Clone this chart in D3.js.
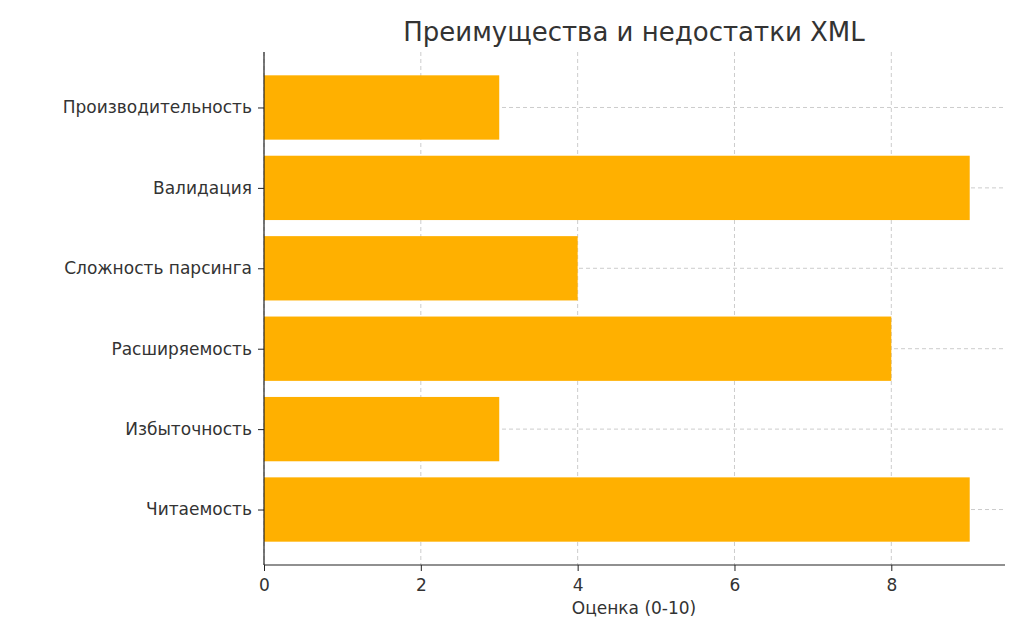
<!DOCTYPE html>
<html><head><meta charset="utf-8">
<script src="https://cdn.jsdelivr.net/npm/d3@7"></script>
<style>body{margin:0;background:#fff}text{font-family:"DejaVu Sans",sans-serif;fill:#333}</style>
</head><body><svg id="chart" width="1024" height="640"></svg>
<script>
// categories bottom to top, as in the picture
const categories = ["Читаемость", "Избыточность", "Расширяемость", "Сложность парсинга", "Валидация", "Производительность"];
const scores = [9, 3, 8, 4, 9, 3];
const xTicks = [0, 2, 4, 6, 8];

const svg = d3.select('#chart');
const m = {left: 264, right: 1005, top: 52, bottom: 565};
const x = d3.scaleLinear().domain([0, 9.45]).range([m.left, m.right]);
const y = d3.scaleLinear().domain([-0.69, 5.69]).range([m.bottom, m.top]);
const bh = y(0) - y(0.8);

// grid
svg.append('g').selectAll('line.gx').data(xTicks).join('line')
  .attr('x1', d => x(d)).attr('x2', d => x(d)).attr('y1', m.top).attr('y2', m.bottom)
  .attr('stroke', '#ccc').attr('stroke-dasharray', '4,3');
svg.append('g').selectAll('line.gy').data(categories).join('line')
  .attr('x1', m.left).attr('x2', m.right).attr('y1', (d, i) => y(i)).attr('y2', (d, i) => y(i))
  .attr('stroke', '#ccc').attr('stroke-dasharray', '4,3');

// bars
svg.append('g').selectAll('rect').data(scores).join('rect')
  .attr('x', x(0)).attr('y', (d, i) => y(i) - bh / 2)
  .attr('width', d => x(d) - x(0)).attr('height', bh)
  .attr('fill', '#FFB000');

// axes
const xa = svg.append('g').attr('transform', `translate(0,${m.bottom})`)
  .call(d3.axisBottom(x).tickValues(xTicks).tickSizeOuter(0).tickSize(6));
xa.select('.domain').attr('d', `M${m.left},0H${m.right}`);
const ya = svg.append('g').attr('transform', `translate(${m.left},0)`)
  .call(d3.axisLeft(y).tickValues(d3.range(categories.length)).tickFormat(i => categories[i]).tickSize(6).tickSizeOuter(0));
ya.select('.domain').attr('d', `M0,${m.top}V${m.bottom}`);
svg.selectAll('.domain').attr('stroke', '#222').attr('stroke-width', 1.2);
svg.selectAll('.tick line').attr('stroke', '#222');
svg.selectAll('.tick text').style('font-size', '17px').attr('fill', '#333');
xa.selectAll('.tick text').attr('dy', '1em');
ya.selectAll('.tick text').attr('dx', '-3px');

svg.append('text').attr('x', 634).attr('y', 41).attr('text-anchor', 'middle')
  .style('font-size', '26px').text('Преимущества и недостатки XML');
svg.append('text').attr('x', 634).attr('y', 614).attr('text-anchor', 'middle')
  .style('font-size', '17px').text('Оценка (0-10)');
</script></body></html>
